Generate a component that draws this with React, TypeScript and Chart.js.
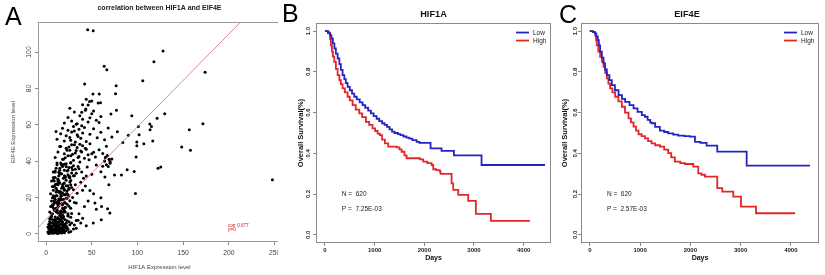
import React, { useEffect, useRef } from 'react';
import { Chart, registerables } from 'chart.js';

Chart.register(...registerables);

const FONT = '"Liberation Sans", Arial, Helvetica, sans-serif';
const BLUE = '#2424c4';
const RED = '#e2262a';

// ---------------- Panel A : scatter ----------------
const scatterTitle = 'correlation between HIF1A and EIF4E';
const scatterXTitle = 'HIF1A Expression level';
const scatterYTitle = 'EIF4E Expression level';
const scatterXRange = [-8.8, 257];
const scatterYRange = [-4.5, 116.5];
const scatterXTicks = [0, 50, 100, 150, 200, 250];
const scatterYTicks = [0, 20, 40, 60, 80, 100];
const fitIntercept = 7.9;
const fitSlope = 0.51;
const corrLines = ['corr 0.677', 'p=0'];

const hif1aExpression = [
  // y 0-5
  2, 3, 4, 5, 6, 7, 8, 9, 10, 11, 12, 13, 14, 15, 16, 17, 18, 19, 20, 21,
  3, 5, 7, 9, 11, 13, 15, 17, 19, 22,
  4, 6, 8, 10, 12, 14, 16, 18, 24, 27,
  2, 6, 10, 14, 20, 25, 30, 33, 8, 12,
  3, 4, 5, 6, 7, 8, 9, 10, 11, 12, 13, 14, 15, 16, 17, 18, 19, 20, 22, 23,
  // y 4-10
  3, 4, 5, 6, 7, 8, 9, 10, 11, 12, 13, 14, 15, 16, 17, 18, 19, 20, 21, 22,
  5, 7, 9, 11, 13, 15, 17, 19, 23, 26,
  4, 8, 12, 16, 20, 24, 28, 31, 35, 40,
  6, 10, 14, 18, 22, 27, 33, 38, 44, 25,
  // y 10-20
  4, 5, 6, 7, 8, 9, 10, 11, 12, 13, 14, 15, 16, 17, 18, 19, 20, 21, 22, 24,
  6, 8, 10, 12, 14, 16, 18, 20, 23, 26,
  7, 9, 11, 13, 15, 17, 19, 25, 28, 31,
  10, 13, 16, 21, 27, 33, 36, 42, 46, 55,
  // y 20-30
  5, 7, 9, 11, 12, 13, 14, 15, 16, 17, 18, 19, 20, 21, 22, 23, 24, 25, 26, 28,
  8, 10, 12, 14, 16, 18, 20, 22, 25, 29,
  11, 15, 19, 24, 27, 30, 34, 38, 43, 48,
  13, 17, 32, 40, 52,
  // y 30-40
  8, 10, 12, 14, 15, 16, 17, 18, 19, 20, 21, 22, 23, 24, 25, 26, 27, 28, 30, 32,
  11, 13, 15, 18, 21, 24, 27, 31, 35, 39,
  20, 25, 29, 33, 37, 41, 45, 50, 55, 60,
  14, 36, 44, 62, 70,
  64, 65, 67, 69, 66, 68, 70,
  // y 40-50
  10, 13, 16, 18, 20, 22, 24, 26, 28, 30, 32, 34, 36, 38, 40, 42, 44, 46, 48, 50,
  15, 19, 23, 27, 31, 35, 39, 43, 47, 52,
  21, 25, 29, 33, 37, 54, 58, 62, 66, 72,
  64, 65, 67, 69, 70,
  // y 50-60
  12, 16, 18, 20, 22, 24, 26, 28, 30, 32, 34, 36, 38, 40, 42,
  27, 31, 35, 39, 44, 48, 52, 56, 60, 64,
  68, 72, 78, 84, 90,
  // y 60-80
  20, 24, 28, 31, 34, 37, 40, 43, 46, 50, 55, 60,
  26, 33, 39, 48, 58, 52,
  40, 44, 50, 57,
  // dense core, extra
  5, 6, 7, 8, 9, 10, 11, 12, 13, 14, 15, 16, 17, 18, 19, 20,
  6, 8, 10, 12, 14, 16, 18, 20, 22, 24,
  7, 9, 11, 13, 15, 17, 19, 21, 23, 25,
  8, 10, 12, 14, 16, 18, 20, 22, 26, 28,
  9, 11, 13, 15, 17, 19, 21, 23, 27, 30,
  // scattered points
  45.5, 51.6, 128, 118, 174, 63.6, 66.5, 105.8, 42.2, 76.7,
  51.3, 58.2, 76, 59.6, 47.6, 46, 43.6, 71, 77, 93.8,
  129.8, 121.5, 171.6, 156.7, 116.7, 148.4, 158, 122.5, 125.5, 97.8,
  247.6, 10.9, 113.5, 115.3, 113.8, 101, 101.8, 99.3, 107, 99.3,
  98.5, 96.4, 88.7, 82.5, 74.9, 60, 60.7, 67.3, 69.8, 60.4,
  51.6, 53.5, 68.7, 64.4,
];

const eif4eExpression = [
  // y 0-5
  1.0, 0.5, 2.1, 1.3, 3.2, 0.8, 2.6, 1.5, 3.8, 0.9, 2.2, 1.7, 3.1, 0.6, 2.9, 1.2, 3.6, 2.0, 1.4, 3.3,
  2.7, 3.9, 1.1, 2.4, 1.9, 0.7, 3.5, 2.3, 0.9, 1.8,
  3.0, 1.6, 0.4, 2.8, 3.7, 1.0, 2.0, 3.4, 2.5, 1.3,
  3.8, 2.9, 1.2, 2.2, 3.9, 0.8, 2.6, 3.1, 1.8, 0.3,
  0.2, 4.4, 3.0, 0.3, 4.1, 1.8, 0.4, 1.6, 4.6, 3.4, 0.2, 4.3, 2.2, 1.1, 0.5, 4.8, 2.7, 0.6, 4.0, 3.5,
  // y 4-10
  5.2, 6.8, 4.5, 8.1, 5.9, 7.4, 4.9, 9.2, 6.3, 5.5, 8.7, 4.3, 7.0, 9.6, 5.1, 6.6, 8.4, 4.7, 7.8, 5.8,
  9.0, 6.1, 7.7, 4.4, 8.9, 5.6, 6.9, 9.4, 7.2, 5.0,
  8.3, 4.6, 6.5, 7.9, 5.3, 9.8, 6.0, 4.8, 7.5, 8.6,
  9.7, 5.7, 8.0, 6.4, 4.2, 9.1, 7.3, 5.9, 4.5, 6.7,
  // y 10-20
  12, 15, 18, 11, 16, 13, 19, 14, 17, 11.5, 15.5, 18.5, 12.5, 16.5, 10.5, 13.5, 17.5, 14.5, 19.5, 11,
  10.8, 14.2, 17.8, 13.2, 19.2, 11.8, 15.8, 12.8, 16.2, 18.2,
  19.8, 16.8, 12.2, 14.8, 10.2, 18.8, 13.8, 15.2, 11.2, 17.2,
  13, 16, 19, 12, 14, 17, 11, 15, 18, 13.5,
  // y 20-30
  22, 26, 29, 21, 24, 27, 23, 28, 20.5, 25, 22.5, 27.5, 24.5, 21.5, 29.5, 23.5, 26.5, 20.8, 28.5, 25.5,
  24, 27, 21, 29, 23, 26, 28, 22, 25, 20,
  27.3, 23.3, 25.3, 21.3, 29.3, 24.3, 22.3, 28.3, 26.3, 23.8,
  29, 21, 27, 24, 22,
  // y 30-40
  31, 34, 38, 32, 36, 39, 33, 37, 30.5, 35, 31.5, 38.5, 34.5, 32.5, 36.5, 30.8, 39.2, 33.5, 37.5, 35.5,
  36, 30.2, 33, 38, 31, 35, 39, 32, 37, 34,
  38.2, 31.3, 35.3, 33.3, 39.5, 30.6, 36.8, 32.8, 37.8, 34.2,
  33.8, 35.8, 31.8, 37.2, 39.8,
  40, 42, 43, 41, 38, 37, 39,
  // y 40-50
  42, 45, 48, 41, 44, 47, 43, 46, 49, 40.5, 44.5, 47.5, 42.5, 45.5, 48.5, 41.5, 46.5, 43.5, 49.5, 44,
  48, 41, 46, 43, 49, 42, 45, 47, 40.8, 44.8,
  41.8, 47.8, 43.8, 45.8, 49.2, 42.2, 46.2, 44.2, 48.2, 41.2,
  40, 42, 43, 41, 39,
  // y 50-60
  52, 55, 58, 51, 54, 57, 53, 56, 59, 50.5, 54.5, 57.5, 52.5, 55.5, 58.5,
  51.5, 56.5, 53.5, 59.5, 50.8, 54.8, 57.8, 52.8, 55.8, 51.8,
  58.2, 53.2, 56.2, 50.2, 54.2,
  // y 60-80
  61, 64, 62, 67, 60.5, 65, 63, 68, 61.5, 66, 62.5, 64.5,
  69, 60.2, 66.8, 63.8, 61.2, 67.5,
  71, 74, 73, 72,
  // dense core, extra
  6, 11, 16, 21, 26, 31, 8, 13, 18, 23, 28, 33, 9, 14, 19, 24,
  29, 34, 7, 12, 17, 22, 27, 32, 37, 10,
  15, 20, 25, 30, 35, 38, 9.5, 14.5, 19.5, 24.5,
  29.5, 34.5, 39, 6.5, 11.5, 16.5, 21.5, 26.5, 31.5, 36.5,
  18, 23, 28, 33, 38, 12, 17, 22, 27, 32,
  // scattered points
  112.3, 111.7, 100.6, 94.7, 88.8, 92.1, 90.3, 84.2, 82.4, 81.5,
  76.9, 76.9, 77.1, 72.1, 72.8, 70.8, 68.6, 65.9, 67.9, 65,
  66, 63.5, 60.6, 57.2, 51, 47.7, 46, 36.1, 36.7, 22.2,
  29.7, 56.3, 60.4, 59, 57.2, 59, 54.5, 50.5, 49.5, 48.4,
  42.2, 34.3, 35.2, 32.3, 32.3, 19.8, 15, 13.8, 11.4, 7.7,
  5.9, 16.9, 27, 31.2,
];

// ---------------- Panels B and C : Kaplan-Meier ----------------
const survivalYTitle = 'Overall Survival(%)';
const survivalXTitle = 'Days';
const groupLabels = ['Low', 'High'];
const dayTicks = [0, 1000, 2000, 3000, 4000];
const survivalTicks = [0, 0.2, 0.4, 0.6, 0.8, 1.0];
const survivalYRange = [-0.04, 1.04];
const noteDay = 340;
const noteSurv = [0.2, 0.127];

const hifTitle = 'HIF1A';
const hifXRange = [-180, 4550];
const hifNote = ['N =  620', 'P =  7.25E-03'];
const hifLowDays = [0, 60, 100, 130, 160, 190, 220, 255, 290, 320, 355, 390, 420, 456, 500, 545, 590, 640, 700, 758, 810, 870, 925, 980, 1040, 1093, 1150, 1200, 1250, 1300, 1350, 1400, 1470, 1520, 1580, 1640, 1700, 1760, 1845, 1900, 2126, 2347, 2596, 3152, 4430];
const hifLowSurv = [1.0, 0.99, 0.98, 0.965, 0.94, 0.915, 0.89, 0.866, 0.838, 0.81, 0.784, 0.765, 0.745, 0.727, 0.71, 0.693, 0.678, 0.665, 0.65, 0.637, 0.624, 0.61, 0.596, 0.583, 0.57, 0.558, 0.548, 0.54, 0.53, 0.518, 0.507, 0.5, 0.495, 0.49, 0.483, 0.477, 0.472, 0.465, 0.457, 0.452, 0.425, 0.412, 0.39, 0.343, 0.343];
const hifHighDays = [0, 60, 90, 105, 120, 140, 160, 188, 220, 255, 290, 320, 355, 400, 456, 500, 557, 620, 691, 750, 825, 890, 959, 1010, 1060, 1107, 1150, 1207, 1274, 1442, 1500, 1543, 1600, 1643, 1911, 1978, 2060, 2147, 2180, 2240, 2314, 2327, 2549, 2582, 2683, 2884, 3038, 3340, 4125];
const hifHighSurv = [1.0, 0.995, 0.99, 0.96, 0.93, 0.9, 0.875, 0.85, 0.815, 0.784, 0.76, 0.74, 0.719, 0.7, 0.678, 0.66, 0.637, 0.615, 0.596, 0.578, 0.555, 0.54, 0.523, 0.51, 0.497, 0.49, 0.468, 0.449, 0.433, 0.43, 0.42, 0.408, 0.39, 0.376, 0.371, 0.36, 0.352, 0.343, 0.322, 0.318, 0.31, 0.299, 0.253, 0.221, 0.196, 0.167, 0.103, 0.069, 0.069];

const eifTitle = 'EIF4E';
const eifXRange = [-175, 4560];
const eifNote = ['N =  620', 'P =  2.57E-03'];
const eifLowDays = [0, 60, 106, 130, 159, 180, 205, 240, 273, 305, 339, 390, 438, 500, 572, 640, 703, 790, 870, 950, 1036, 1096, 1150, 1201, 1229, 1300, 1394, 1480, 1560, 1660, 1759, 1880, 1992, 2092, 2200, 2324, 2536, 3121, 4382];
const eifLowSurv = [1.0, 0.995, 0.989, 0.975, 0.956, 0.93, 0.9, 0.87, 0.842, 0.812, 0.784, 0.76, 0.735, 0.71, 0.686, 0.668, 0.653, 0.637, 0.621, 0.604, 0.588, 0.58, 0.565, 0.552, 0.548, 0.53, 0.512, 0.505, 0.498, 0.492, 0.487, 0.485, 0.482, 0.457, 0.452, 0.438, 0.409, 0.34, 0.34];
const eifHighDays = [0, 60, 106, 125, 139, 170, 205, 240, 273, 305, 339, 370, 404, 450, 504, 570, 637, 700, 771, 820, 870, 920, 970, 1030, 1096, 1160, 1229, 1300, 1394, 1480, 1560, 1620, 1693, 1800, 1892, 2058, 2158, 2220, 2291, 2536, 2636, 2855, 3008, 3307, 4084];
const eifHighSurv = [1.0, 0.995, 0.98, 0.955, 0.931, 0.9, 0.874, 0.85, 0.825, 0.795, 0.768, 0.743, 0.719, 0.7, 0.678, 0.655, 0.629, 0.6, 0.572, 0.552, 0.531, 0.512, 0.494, 0.485, 0.474, 0.46, 0.449, 0.44, 0.433, 0.418, 0.401, 0.38, 0.36, 0.352, 0.348, 0.335, 0.302, 0.295, 0.286, 0.229, 0.212, 0.188, 0.139, 0.106, 0.106];

// ---------------- plugins ----------------
function makeFramePlugin(color: string) {
  return {
    id: 'frame',
    beforeDatasetsDraw(chart: any) {
      const { ctx, chartArea: a } = chart;
      ctx.save();
      ctx.strokeStyle = color;
      ctx.lineWidth = 1;
      const l = Math.round(a.left), t = Math.round(a.top), r = Math.round(a.right), b = Math.round(a.bottom);
      ctx.strokeRect(l + 0.5, t + 0.5, r - l - 1, b - t - 1);
      ctx.restore();
    },
  };
}

type Note = { x: number; y: number; text: string; font: string; color: string };
function makeNotesPlugin(notes: Note[]) {
  return {
    id: 'notes',
    afterDatasetsDraw(chart: any) {
      const { ctx, scales } = chart;
      ctx.save();
      ctx.textAlign = 'left';
      ctx.textBaseline = 'middle';
      for (const n of notes) {
        ctx.font = n.font;
        ctx.fillStyle = n.color;
        ctx.fillText(n.text, scales.x.getPixelForValue(n.x), scales.y.getPixelForValue(n.y));
      }
      ctx.restore();
    },
  };
}

function makeLegendPlugin(labels: string[], colors: string[]) {
  return {
    id: 'kmLegend',
    afterDatasetsDraw(chart: any) {
      const { ctx, chartArea: a } = chart;
      ctx.save();
      ctx.font = `6.5px ${FONT}`;
      ctx.textAlign = 'left';
      ctx.textBaseline = 'middle';
      labels.forEach((lab, i) => {
        const y = a.top + 9.5 + i * 8;
        ctx.strokeStyle = colors[i];
        ctx.lineWidth = 1.8;
        ctx.beginPath();
        ctx.moveTo(a.right - 35, y);
        ctx.lineTo(a.right - 22, y);
        ctx.stroke();
        ctx.fillStyle = '#222';
        ctx.fillText(lab, a.right - 18, y + 0.5);
      });
      ctx.restore();
    },
  };
}

const fixedTicks = (values: number[]) => (s: any) => {
  s.ticks = values.map((value) => ({ value }));
};

// ---------------- configs ----------------
function scatterConfig(): any {
  const points = hif1aExpression.map((x, i) => ({ x, y: eif4eExpression[i] }));
  const fit = scatterXRange.map((x) => ({ x, y: fitIntercept + fitSlope * x }));
  const noteFont = `4.6px ${FONT}`;
  return {
    type: 'scatter',
    data: {
      datasets: [
        { type: 'line', data: fit, borderColor: 'rgba(212,120,120,0.85)', borderWidth: 1, pointRadius: 0, fill: false, order: 0 },
        { data: points, backgroundColor: '#000', borderColor: '#000', borderWidth: 0, pointRadius: 1.5, order: 1 },
      ],
    },
    options: {
      responsive: false,
      animation: false,
      events: [],
      layout: { padding: { left: 0, top: 0, right: 9, bottom: 0 } },
      plugins: {
        legend: { display: false },
        tooltip: { enabled: false },
        title: {
          display: true,
          text: scatterTitle,
          fullSize: false,
          color: '#222',
          font: { family: FONT, size: 7, weight: 'bold' },
          padding: { top: 4, bottom: 9.6 },
        },
      },
      scales: {
        x: {
          type: 'linear',
          min: scatterXRange[0],
          max: scatterXRange[1],
          afterBuildTicks: fixedTicks(scatterXTicks),
          ticks: { autoSkip: false, maxRotation: 0, padding: 4, color: '#444', font: { family: FONT, size: 6.8 }, callback: (v: any) => String(v) },
          grid: { drawOnChartArea: false, drawTicks: true, tickLength: 3, color: '#888' },
          border: { display: false },
          title: { display: true, text: scatterXTitle, color: '#444', font: { family: FONT, size: 6 }, padding: { top: 0, bottom: 4 } },
          afterFit: (s: any) => { s.height = 33; },
        },
        y: {
          type: 'linear',
          min: scatterYRange[0],
          max: scatterYRange[1],
          afterBuildTicks: fixedTicks(scatterYTicks),
          ticks: { autoSkip: false, minRotation: 90, maxRotation: 90, crossAlign: 'center', padding: 0, color: '#444', font: { family: FONT, size: 6.8 }, callback: (v: any) => String(v) },
          grid: { drawOnChartArea: false, drawTicks: true, tickLength: 3, color: '#888' },
          border: { display: false },
          title: { display: true, text: scatterYTitle, color: '#444', font: { family: FONT, size: 6 }, padding: { top: 9.4, bottom: 0 } },
          afterFit: (s: any) => { s.width = 38; },
        },
      },
    },
    plugins: [
      makeFramePlugin('#999'),
      makeNotesPlugin([
        { x: 199, y: 4.7, text: corrLines[0], font: noteFont, color: '#d02020' },
        { x: 199, y: 2.4, text: corrLines[1], font: noteFont, color: '#d02020' },
      ]),
    ],
  };
}

type KMPanel = {
  title: string;
  xRange: number[];
  lowDays: number[];
  lowSurv: number[];
  highDays: number[];
  highSurv: number[];
  note: string[];
  yAxisWidth: number;
  yTitleOffset: number;
  yTickPadding: number;
  rightPad: number;
  titleFull: boolean;
};

function survivalConfig(p: KMPanel): any {
  const low = p.lowDays.map((x, i) => ({ x, y: p.lowSurv[i] }));
  const high = p.highDays.map((x, i) => ({ x, y: p.highSurv[i] }));
  const noteFont = `6.5px ${FONT}`;
  return {
    type: 'line',
    data: {
      datasets: [
        { label: groupLabels[0], data: low, borderColor: BLUE, borderWidth: 1.8, pointRadius: 0, stepped: 'before', fill: false },
        { label: groupLabels[1], data: high, borderColor: RED, borderWidth: 1.8, pointRadius: 0, stepped: 'before', fill: false },
      ],
    },
    options: {
      responsive: false,
      animation: false,
      events: [],
      layout: { padding: { left: 0, top: 0, right: p.rightPad, bottom: 0 } },
      plugins: {
        legend: { display: false },
        tooltip: { enabled: false },
        title: {
          display: true,
          text: p.title,
          fullSize: p.titleFull,
          color: '#111',
          font: { family: FONT, size: 9.2, weight: 'bold' },
          padding: { top: 8.6, bottom: 3.4 },
        },
      },
      scales: {
        x: {
          type: 'linear',
          min: p.xRange[0],
          max: p.xRange[1],
          afterBuildTicks: fixedTicks(dayTicks),
          ticks: { autoSkip: false, maxRotation: 0, padding: 0.5, color: '#222', font: { family: FONT, size: 6, weight: 'bold' }, callback: (v: any) => String(v) },
          grid: { drawOnChartArea: false, drawTicks: true, tickLength: 3, color: '#888' },
          border: { display: false },
          title: { display: true, text: survivalXTitle, color: '#111', font: { family: FONT, size: 7, weight: 'bold' }, padding: { top: 0, bottom: 12.8 } },
          afterFit: (s: any) => { s.height = 32; },
        },
        y: {
          type: 'linear',
          min: survivalYRange[0],
          max: survivalYRange[1],
          afterBuildTicks: fixedTicks(survivalTicks),
          ticks: {
            autoSkip: false, minRotation: 90, maxRotation: 90, crossAlign: 'center',
            padding: p.yTickPadding, color: '#222', font: { family: FONT, size: 6, weight: 'bold' },
            callback: (v: any) => Number(v).toFixed(1),
          },
          grid: { drawOnChartArea: false, drawTicks: true, tickLength: 3, color: '#888' },
          border: { display: false },
          title: { display: true, text: survivalYTitle, color: '#111', font: { family: FONT, size: 7.5, weight: 'bold' }, padding: { top: p.yTitleOffset, bottom: 0 } },
          afterFit: (s: any) => { s.width = p.yAxisWidth; },
        },
      },
    },
    plugins: [
      makeFramePlugin('#8a8a8a'),
      makeLegendPlugin(groupLabels, [BLUE, RED]),
      makeNotesPlugin([
        { x: noteDay, y: noteSurv[0], text: p.note[0], font: noteFont, color: '#222' },
        { x: noteDay, y: noteSurv[1], text: p.note[1], font: noteFont, color: '#222' },
      ]),
    ],
  };
}

// ---------------- components ----------------
function ChartPanel(props: { left: number; width: number; canvasWidth: number; height: number; make: () => any }) {
  const ref = useRef<HTMLCanvasElement>(null);
  useEffect(() => {
    const chart = new Chart(ref.current as HTMLCanvasElement, props.make());
    return () => chart.destroy();
  }, []);
  return (
    <div style={{ position: 'absolute', left: props.left, top: 0, width: props.width, height: props.height, overflow: 'hidden' }}>
      <canvas
        ref={ref}
        width={props.canvasWidth}
        height={props.height}
        style={{ width: props.canvasWidth, height: props.height, display: 'block' }}
      />
    </div>
  );
}

const letterStyle: React.CSSProperties = {
  position: 'absolute',
  fontFamily: FONT,
  fontSize: 25,
  lineHeight: '25px',
  color: '#000',
};

export default function App() {
  return (
    <div style={{ position: 'absolute', left: 0, top: 0, width: 825, height: 275, background: '#fff', overflow: 'hidden' }}>
      <ChartPanel left={0} width={278} canvasWidth={290} height={275} make={scatterConfig} />
      <ChartPanel
        left={280}
        width={272}
        canvasWidth={272}
        height={275}
        make={() =>
          survivalConfig({
            title: hifTitle, xRange: hifXRange, lowDays: hifLowDays, lowSurv: hifLowSurv, highDays: hifHighDays, highSurv: hifHighSurv,
            note: hifNote, yAxisWidth: 36, yTitleOffset: 16.5, yTickPadding: 0.5, rightPad: 1, titleFull: false,
          })
        }
      />
      <ChartPanel
        left={555}
        width={270}
        canvasWidth={270}
        height={275}
        make={() =>
          survivalConfig({
            title: eifTitle, xRange: eifXRange, lowDays: eifLowDays, lowSurv: eifLowSurv, highDays: eifHighDays, highSurv: eifHighSurv,
            note: eifNote, yAxisWidth: 26, yTitleOffset: 5.5, yTickPadding: -1.2, rightPad: 6, titleFull: true,
          })
        }
      />
      <div style={{ ...letterStyle, left: 5, top: 4 }}>A</div>
      <div style={{ ...letterStyle, left: 282, top: 1 }}>B</div>
      <div style={{ ...letterStyle, left: 559, top: 2 }}>C</div>
    </div>
  );
}
